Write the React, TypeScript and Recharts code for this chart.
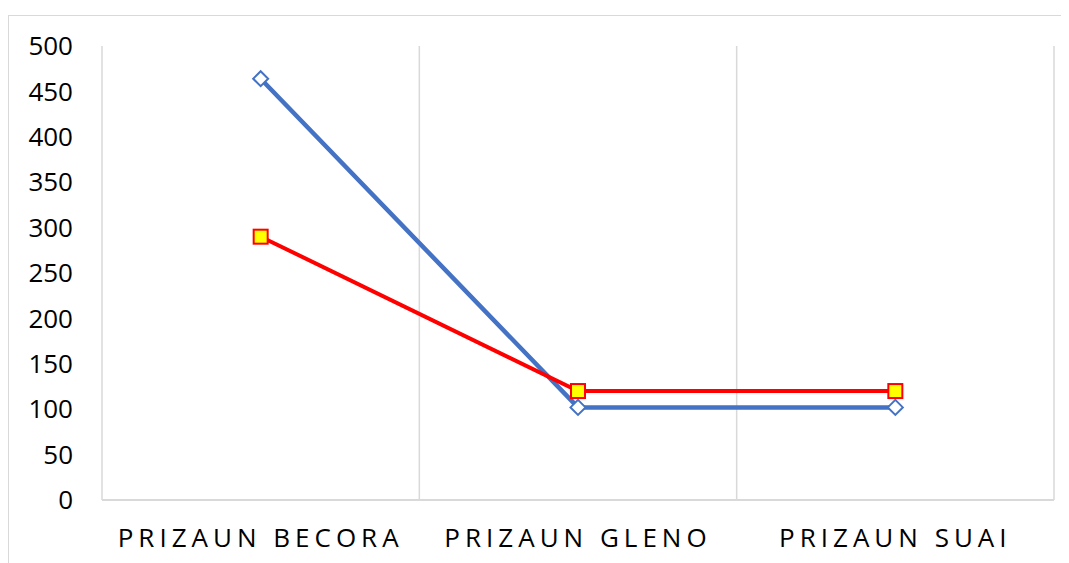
import { LineChart, Line, XAxis, YAxis, ReferenceLine } from "recharts"

const CATEGORIES = ["PRIZAUN BECORA", "PRIZAUN GLENO", "PRIZAUN SUAI"]
const BLUE_VALUES = [464, 102, 102]
const RED_VALUES = [290, 120, 120]
const Y_TICKS = [0, 50, 100, 150, 200, 250, 300, 350, 400, 450, 500]
// category boundaries, where the vertical gridlines sit
const GRID_TICKS = [0, 1, 2, 3]

const data = CATEGORIES.map((name, i) => ({
  name,
  idx: i,
  blue: BLUE_VALUES[i],
  red: RED_VALUES[i],
}))

const FONT = "'Open Sans', sans-serif"

function Diamond(props: any) {
  const { cx, cy } = props
  if (cx == null || cy == null) return null
  const r = 7.5
  return (
    <path
      d={`M${cx},${cy - r} L${cx + r},${cy} L${cx},${cy + r} L${cx - r},${cy} Z`}
      fill="#ffffff"
      stroke="#4472C4"
      strokeWidth={2}
    />
  )
}

function Square(props: any) {
  const { cx, cy } = props
  if (cx == null || cy == null) return null
  const s = 7
  return (
    <rect x={cx - s} y={cy - s} width={s * 2} height={s * 2} fill="#FFFF00" stroke="#FF0000" strokeWidth={2} />
  )
}

export default function App() {
  return (
    <div
      style={{
        marginTop: 7,
        width: 1061,
        height: 548,
        borderTop: "1px solid #d9d9d9",
        borderLeft: "1px solid #d9d9d9",
        fontFamily: FONT,
      }}
    >
      <LineChart width={1060} height={547} data={data} margin={{ top: 30, right: 15, left: 33, bottom: 13 }}>
        <XAxis xAxisId="grid" dataKey="idx" type="number" domain={[0, 3]} ticks={GRID_TICKS} allowDataOverflow hide />
        <XAxis
          dataKey="name"
          scale="band"
          height={50}
          tickLine={false}
          tickMargin={23}
          axisLine={{ stroke: "#d9d9d9", strokeWidth: 2 }}
          tick={{ fill: "#000000", fontSize: 26, fontFamily: FONT, letterSpacing: 5 }}
        />
        <YAxis
          width={60}
          domain={[0, 500]}
          ticks={Y_TICKS}
          interval={0}
          axisLine={false}
          tickLine={false}
          tickMargin={23}
          tick={{ fill: "#000000", fontSize: 26, fontFamily: FONT }}
        />
        {GRID_TICKS.map((v) => (
          <ReferenceLine key={v} xAxisId="grid" x={v} stroke="#d9d9d9" strokeWidth={1.5} />
        ))}
        <Line
          dataKey="blue"
          stroke="#4472C4"
          strokeWidth={4.5}
          dot={<Diamond />}
          activeDot={false}
          isAnimationActive={false}
        />
        <Line
          dataKey="red"
          stroke="#FF0000"
          strokeWidth={4}
          dot={<Square />}
          activeDot={false}
          isAnimationActive={false}
        />
      </LineChart>
    </div>
  )
}
